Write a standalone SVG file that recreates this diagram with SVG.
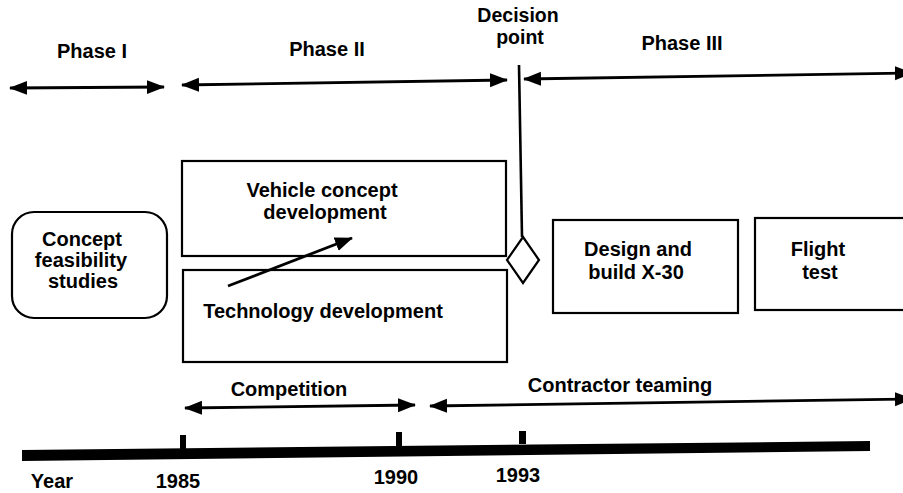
<svg xmlns="http://www.w3.org/2000/svg" width="903" height="493" viewBox="0 0 903 493">
<defs>
<marker id="ah" markerUnits="userSpaceOnUse" markerWidth="18" markerHeight="15" refX="17" refY="7" orient="auto-start-reverse" viewBox="0 0 18 14">
<path d="M0,0 L18,7 L0,14 z" fill="#000"/>
</marker>
</defs>
<style>
text{font-family:"Liberation Sans",Arial,Helvetica,sans-serif;font-weight:bold;font-size:20px;fill:#000;text-anchor:middle}
.sm{font-size:19.5px}
.box{fill:#fff;stroke:#000;stroke-width:2.2}
.ln{stroke:#000;stroke-width:2.6;fill:none}
.arr{stroke:#000;stroke-width:2.8;fill:none;marker-start:url(#ah);marker-end:url(#ah)}
.one{stroke:#000;stroke-width:2.8;fill:none;marker-end:url(#ah)}
</style>
<rect width="903" height="493" fill="#fff"/>

<g id="labels">
<text x="92" y="58">Phase I</text>
<text x="327" y="56">Phase II</text>
<text class="sm" x="518" y="22">Decision</text>
<text class="sm" x="520" y="44">point</text>
<text x="682" y="50">Phase III</text>
</g>

<g id="concept-feasibility">
<rect class="box" x="12" y="212" width="155" height="106" rx="22"/>
<text x="82" y="246">Concept</text>
<text x="81" y="267">feasibility</text>
<text x="83" y="288">studies</text>
</g>

<g id="vehicle-concept">
<rect class="box" x="182" y="161" width="324" height="95"/>
<text x="322" y="197">Vehicle concept</text>
<text x="325" y="219">development</text>
</g>

<g id="technology">
<rect class="box" x="183" y="270" width="324" height="92"/>
<text x="323" y="318">Technology development</text>
</g>

<g id="decision">
<path d="M523,237 L539,260 L523,283 L507,260 Z" fill="#fff" stroke="#000" stroke-width="2.2"/>
</g>

<g id="design-build">
<rect class="box" x="553" y="220" width="185" height="93"/>
<text x="638" y="256">Design and</text>
<text x="636" y="279">build X-30</text>
</g>

<g id="flight-test">
<rect class="box" x="755" y="218" width="160" height="92"/>
<text x="818" y="256">Flight</text>
<text x="820" y="279">test</text>
</g>

<g id="timeline">
<polygon points="22,450 870,441 870,451 22,461" fill="#000"/>
<rect x="180" y="435" width="6" height="16" fill="#000"/>
<rect x="396" y="432" width="6" height="15" fill="#000"/>
<rect x="519" y="431" width="7" height="13" fill="#000"/>
<text x="52" y="488">Year</text>
<text x="178" y="488">1985</text>
<text x="396" y="484">1990</text>
<text x="518" y="482">1993</text>
<text x="289" y="396">Competition</text>
<text x="620" y="392">Contractor teaming</text>
</g>

<g id="connectors">
<line class="arr" x1="10" y1="88" x2="164" y2="87"/>
<line class="arr" x1="182" y1="85" x2="507" y2="80"/>
<line class="ln" x1="519" y1="65" x2="522" y2="237"/>
<line class="arr" x1="524" y1="79" x2="912" y2="73"/>
<line class="one" x1="228" y1="286" x2="352" y2="238"/>
<line class="arr" x1="185" y1="408" x2="415" y2="405"/>
<line class="arr" x1="430" y1="406" x2="912" y2="399"/>
</g>
</svg>
